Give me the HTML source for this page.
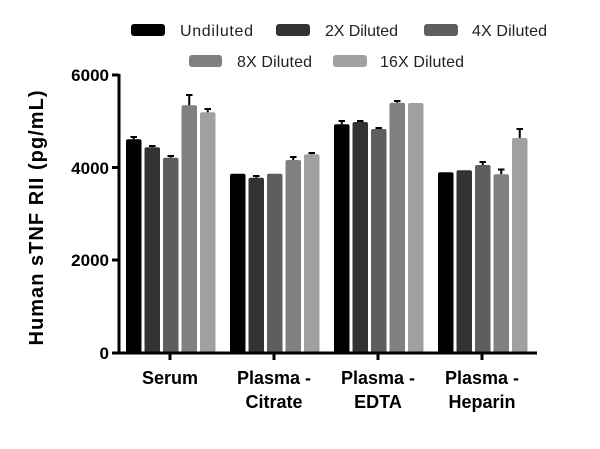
<!DOCTYPE html>
<html><head><style>body{margin:0;background:#fff}</style></head><body>
<svg width="600" height="444" xmlns="http://www.w3.org/2000/svg" font-family="Liberation Sans, sans-serif">
<g font-size="16" fill="#222">
<rect x="131" y="24" width="34" height="12" rx="3" fill="#000"/><text x="180" y="36" textLength="73">Undiluted</text>
<rect x="276" y="24" width="34" height="12" rx="3" fill="#333"/><text x="325" y="36" textLength="73">2X Diluted</text>
<rect x="424" y="24" width="34" height="12" rx="3" fill="#5e5e5e"/><text x="472" y="36" textLength="75">4X Diluted</text>
<rect x="189" y="55" width="33" height="12" rx="3" fill="#808080"/><text x="237" y="67" textLength="75">8X Diluted</text>
<rect x="333" y="55" width="34" height="12" rx="3" fill="#a0a0a2"/><text x="380" y="67" textLength="84">16X Diluted</text>
</g>
<g>
<rect x="126" y="139.3" width="15.5" height="213.7" rx="2" fill="#000"/>
<rect x="144.5" y="147.3" width="15.5" height="205.7" rx="2" fill="#333"/>
<rect x="163" y="157.7" width="15.5" height="195.3" rx="2" fill="#5e5e5e"/>
<rect x="181.5" y="105.3" width="15.5" height="247.7" rx="2" fill="#808080"/>
<rect x="200" y="112.3" width="15.5" height="240.7" rx="2" fill="#a0a0a2"/>
<rect x="230" y="173.7" width="15.5" height="179.3" rx="2" fill="#000"/>
<rect x="248.5" y="177.7" width="15.5" height="175.3" rx="2" fill="#333"/>
<rect x="267" y="173.7" width="15.5" height="179.3" rx="2" fill="#5e5e5e"/>
<rect x="285.5" y="160" width="15.5" height="193" rx="2" fill="#808080"/>
<rect x="304" y="154.3" width="15.5" height="198.7" rx="2" fill="#a0a0a2"/>
<rect x="334" y="124.3" width="15.5" height="228.7" rx="2" fill="#000"/>
<rect x="352.5" y="122" width="15.5" height="231" rx="2" fill="#333"/>
<rect x="371" y="129" width="15.5" height="224" rx="2" fill="#5e5e5e"/>
<rect x="389.5" y="102.7" width="15.5" height="250.3" rx="2" fill="#808080"/>
<rect x="408" y="103" width="15.5" height="250" rx="2" fill="#a0a0a2"/>
<rect x="438" y="172.3" width="15.5" height="180.7" rx="2" fill="#000"/>
<rect x="456.5" y="170.3" width="15.5" height="182.7" rx="2" fill="#333"/>
<rect x="475" y="165" width="15.5" height="188" rx="2" fill="#5e5e5e"/>
<rect x="493.5" y="174.3" width="15.5" height="178.7" rx="2" fill="#808080"/>
<rect x="512" y="138" width="15.5" height="215" rx="2" fill="#a0a0a2"/>
</g>
<g stroke="#000" stroke-width="2">
<path d="M133.75 137V139.3M130.5 137H137"/>
<path d="M152.25 146V147.3M149 146H155.5"/>
<path d="M170.75 156V157.7M167.5 156H174"/>
<path d="M189.25 95V105.3M186 95H192.5"/>
<path d="M207.75 109V112.3M204.5 109H211"/>
<path d="M256.25 176V177.7M253 176H259.5"/>
<path d="M293.25 157V160M290 157H296.5"/>
<path d="M311.75 153V154.3M308.5 153H315"/>
<path d="M341.75 121V124.3M338.5 121H345"/>
<path d="M360.25 121V122M357 121H363.5"/>
<path d="M378.75 128V129M375.5 128H382"/>
<path d="M397.25 101V102.7M394 101H400.5"/>
<path d="M482.75 162V165M479.5 162H486"/>
<path d="M501.25 169.5V174.3M498 169.5H504.5"/>
<path d="M519.75 129V138M516.5 129H523"/>
</g>
<g stroke="#000" stroke-width="3" fill="none">
<line x1="119" y1="74" x2="119" y2="354"/>
<line x1="118" y1="353" x2="537" y2="353"/>
<line x1="112" y1="75" x2="119" y2="75"/>
<line x1="112" y1="167.5" x2="119" y2="167.5"/>
<line x1="112" y1="260" x2="119" y2="260"/>
<line x1="112" y1="353" x2="119" y2="353"/>
<line x1="170" y1="353" x2="170" y2="360"/>
<line x1="274" y1="353" x2="274" y2="360"/>
<line x1="378" y1="353" x2="378" y2="360"/>
<line x1="482" y1="353" x2="482" y2="360"/>
</g>
<g font-size="17" font-weight="bold" text-anchor="end" fill="#000">
<text x="109" y="81">6000</text><text x="109" y="174">4000</text><text x="109" y="266">2000</text><text x="109" y="359">0</text>
</g>
<g font-size="18" font-weight="bold" text-anchor="middle" fill="#000">
<text x="170" y="384">Serum</text>
<text x="274" y="384">Plasma -</text><text x="274" y="408">Citrate</text>
<text x="378" y="384">Plasma -</text><text x="378" y="408">EDTA</text>
<text x="482" y="384">Plasma -</text><text x="482" y="408">Heparin</text>
</g>
<text transform="translate(43,218) rotate(-90)" font-size="20" font-weight="bold" text-anchor="middle" fill="#000" textLength="255">Human sTNF RII (pg/mL)</text>
</svg>
</body></html>
